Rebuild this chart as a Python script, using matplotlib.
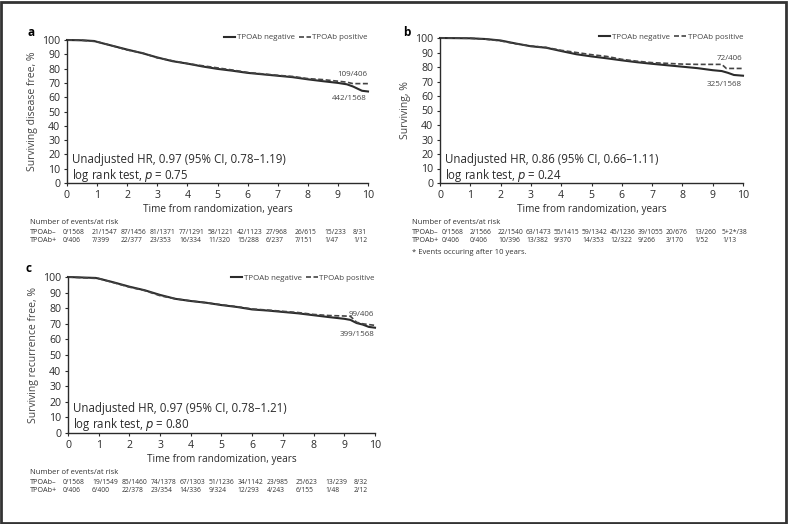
import numpy as np
import matplotlib
matplotlib.use("Agg")
import matplotlib.pyplot as plt
from matplotlib.patches import Rectangle

plt.rcParams['font.family'] = ['Open Sans', 'DejaVu Sans']

# ---- data ----
years = list(range(11))

# panel a: disease-free survival
a_neg_t = [0, 0.5, 0.9, 1.0, 1.5, 2.0, 2.5, 3.0, 3.5, 4.0, 4.5, 5.0, 5.5, 6.0, 6.5, 7.0, 7.5, 8.0, 8.5, 9.0, 9.3, 9.5, 9.7, 9.8, 10]
a_neg_s = [100, 99.8, 99.3, 98.7, 96, 93.3, 90.8, 87.8, 85.2, 83.5, 81.5, 79.8, 78.5, 77, 76, 75, 74, 72.5, 71.2, 70, 69, 67.5, 65.5, 64.5, 64]
a_pos_t = [0, 0.5, 1.0, 1.5, 2.0, 2.5, 3.0, 3.5, 4.0, 4.5, 5.0, 5.5, 6.0, 6.5, 7.0, 7.5, 8.0, 8.5, 9.0, 9.3, 9.5, 10]
a_pos_s = [100, 99.8, 98.8, 96, 93, 91, 87.5, 85.5, 83.5, 82, 80.5, 79, 77.3, 76.3, 75.3, 74.5, 73, 72.3, 71.2, 70.5, 69.5, 69.5]
a_neg_risk = ["0/1568", "21/1547", "87/1456", "81/1371", "77/1291", "58/1221", "42/1123", "27/968", "26/615", "15/233", "8/31"]
a_pos_risk = ["0/406", "7/399", "22/377", "23/353", "16/334", "11/320", "15/288", "6/237", "7/151", "1/47", "1/12"]

# panel b: overall survival
b_neg_t = [0, 1.0, 1.5, 2.0, 2.5, 3.0, 3.5, 4.0, 4.5, 5.0, 5.5, 6.0, 6.5, 7.0, 7.5, 8.0, 8.5, 9.0, 9.3, 9.5, 9.7, 10]
b_neg_s = [100, 99.8, 99.3, 98.3, 96.2, 94.3, 93.3, 91, 88.8, 87.3, 86, 84.6, 83.3, 82.2, 81.2, 80.2, 79.2, 77.8, 77.2, 76, 74.5, 74]
b_pos_t = [0, 1.0, 1.5, 2.0, 2.5, 3.0, 3.5, 4.0, 4.5, 5.0, 5.5, 6.0, 6.5, 7.0, 7.5, 8.0, 8.5, 9.3, 9.45, 10]
b_pos_s = [100, 99.8, 99.2, 98, 96, 94.5, 93.5, 91.5, 90, 88.5, 87.3, 85.3, 84, 83, 82.5, 82, 81.8, 81.8, 79, 79]
b_neg_risk = ["0/1568", "2/1566", "22/1540", "63/1473", "55/1415", "59/1342", "45/1236", "39/1055", "20/676", "13/260", "5+2*/38"]
b_pos_risk = ["0/406", "0/406", "10/396", "13/382", "9/370", "14/353", "12/322", "9/266", "3/170", "1/52", "1/13"]

# panel c: recurrence-free survival
c_neg_t = [0, 0.9, 1.0, 1.5, 2.0, 2.5, 3.0, 3.5, 4.0, 4.5, 5.0, 5.5, 6.0, 6.5, 7.0, 7.5, 8.0, 8.5, 9.0, 9.2, 9.4, 9.6, 9.8, 10]
c_neg_s = [100, 99.4, 99, 96.5, 93.8, 91.5, 88.5, 86, 84.6, 83.5, 82, 80.8, 79.2, 78.5, 77.6, 76.7, 75.5, 74.3, 73.2, 72.5, 70.5, 69.5, 68, 67.5]
c_pos_t = [0, 1.0, 1.5, 2.0, 2.5, 3.0, 3.5, 4.0, 4.5, 5.0, 5.5, 6.0, 6.5, 7.0, 7.5, 8.0, 8.5, 9.0, 9.2, 9.4, 9.6, 9.8, 10]
c_pos_s = [100, 99, 96.3, 93.5, 91.3, 88, 86, 84.7, 83.5, 82.2, 81, 79.5, 78.8, 78, 77.2, 76, 75.3, 75, 74.8, 71, 70, 69.5, 69]
c_neg_risk = ["0/1568", "19/1549", "85/1460", "74/1378", "67/1303", "51/1236", "34/1142", "23/985", "25/623", "13/239", "8/32"]
c_pos_risk = ["0/406", "6/400", "22/378", "23/354", "14/336", "9/324", "12/293", "4/243", "6/155", "1/48", "2/12"]

W, H = 788, 524
fig = plt.figure(figsize=(W / 100, H / 100), dpi=100)
fig.patches.append(Rectangle((0.001, 0.002), 0.996, 0.995, transform=fig.transFigure,
                             fill=False, edgecolor='#333333', lw=2))

DARK = '#2b2b2b'


def px(x, y):
    return x / W, 1 - y / H


def make_panel(rect, letter, letter_xy, ylabel, neg, pos, stats, ends, legend_y):
    ax = fig.add_axes(rect)
    ax.plot(neg[0], neg[1], color=DARK, lw=1.5, label='TPOAb negative', clip_on=False)
    ax.plot(pos[0], pos[1], color='#444444', lw=1.2, ls=(0, (3, 1.5)),
            label='TPOAb positive', clip_on=False)
    ax.set_xlim(0, 10)
    ax.set_ylim(0, 100)
    ax.set_xticks(years)
    ax.set_yticks(range(0, 101, 10))
    for s in ['top', 'right']:
        ax.spines[s].set_visible(False)
    for s in ['left', 'bottom']:
        ax.spines[s].set_color(DARK)
        ax.spines[s].set_linewidth(1.0)
    ax.tick_params(direction='out', length=2, width=0.8, colors=DARK,
                   labelsize=7.6, pad=3)
    ax.set_xlabel('Time from randomization, years', fontsize=7.2, color=DARK, labelpad=2)
    ax.set_ylabel(ylabel, fontsize=7.5, color='#444444', labelpad=3)
    ax.legend(loc='lower right', bbox_to_anchor=(1.0, legend_y), ncol=2, frameon=False,
              fontsize=5.7, handlelength=1.4, handletextpad=0.25, columnspacing=0.6,
              borderaxespad=0, borderpad=0, labelcolor='#444444')
    ax.text(0.17, 10, stats[0] + '\n' + stats[1], fontsize=8.3, color=DARK,
            va='center', linespacing=1.05)
    ax.text(9.97, ends[0][1], ends[0][0], fontsize=5.8, color='#444444', ha='right', va='center')
    ax.text(9.97, ends[1][1], ends[1][0], fontsize=5.8, color='#444444', ha='right', va='center')
    fig.text(*px(*letter_xy), letter, fontsize=8.5, fontweight='bold', va='center', ha='left')
    return ax


def risk_table(x0, x_first, step, y0, neg_risk, pos_risk):
    c = '#333333'
    fig.text(*px(x0, y0), 'Number of events/at risk', fontsize=5.5, color=c, va='center')
    fig.text(*px(x0, y0 + 9), 'TPOAb\u2013', fontsize=5.2, color=c, va='center')
    fig.text(*px(x0, y0 + 18), 'TPOAb+', fontsize=5.2, color=c, va='center')
    for i in range(len(neg_risk)):
        fig.text(*px(x_first + step * i, y0 + 9), neg_risk[i], fontsize=4.9, color=c, va='center')
        fig.text(*px(x_first + step * i, y0 + 18), pos_risk[i], fontsize=4.9, color=c, va='center')


make_panel([67 / W, 1 - 183 / H, 301 / W, 143 / H], 'a', (27, 33),
           'Surviving disease free, %', (a_neg_t, a_neg_s), (a_pos_t, a_pos_s),
           ('Unadjusted HR, 0.97 (95% CI, 0.78\u20131.19)', 'log rank test, $p$ = 0.75'),
           (('109/406', 76), ('442/1568', 59)), 0.99)
risk_table(30, 63, 29, 223, a_neg_risk, a_pos_risk)

make_panel([440 / W, 1 - 183 / H, 303 / W, 145 / H], 'b', (403, 32),
           'Surviving, %', (b_neg_t, b_neg_s), (b_pos_t, b_pos_s),
           ('Unadjusted HR, 0.86 (95% CI, 0.66\u20131.11)', 'log rank test, $p$ = 0.24'),
           (('72/406', 86), ('325/1568', 68)), 0.98)
risk_table(412, 442, 28, 223, b_neg_risk, b_pos_risk)
fig.text(*px(412, 253), '* Events occuring after 10 years.', fontsize=5.5, color='#333333', va='center')

make_panel([68 / W, 1 - 433 / H, 307 / W, 156 / H], 'c', (26, 268),
           'Surviving recurrence free, %', (c_neg_t, c_neg_s), (c_pos_t, c_pos_s),
           ('Unadjusted HR, 0.97 (95% CI, 0.78\u20131.21)', 'log rank test, $p$ = 0.80'),
           (('99/406', 76), ('399/1568', 63)), 0.97)
risk_table(30, 63, 29.1, 473, c_neg_risk, c_pos_risk)

fig.savefig('out.png', dpi=100)
